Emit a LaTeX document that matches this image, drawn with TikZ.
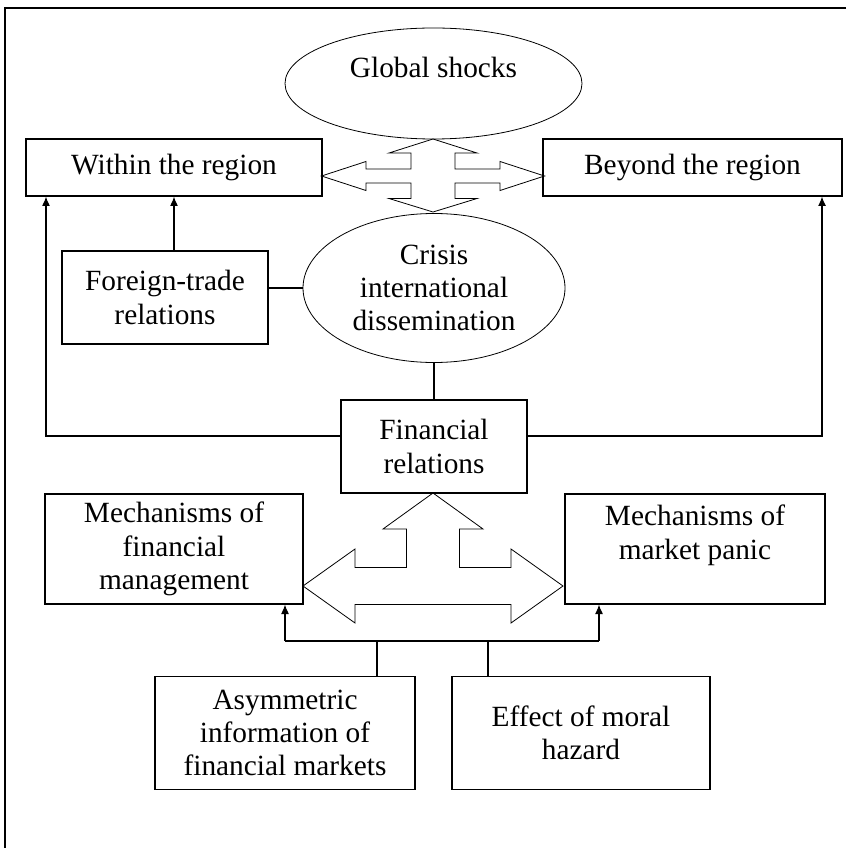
\documentclass[tikz,border=0pt]{standalone}
\usepackage{fontspec}
\setmainfont{Liberation Serif}
\usetikzlibrary{shapes.geometric,arrows.meta}

\begin{document}
\begin{tikzpicture}[x=0.75pt,y=0.75pt,yscale=-1,xscale=1,
  box/.style={draw,line width=1pt,inner sep=0pt,align=center,font=\fontsize{22}{25}\selectfont},
  oval/.style={draw,ellipse,line width=0.6pt,inner sep=0pt,align=center,font=\fontsize{22}{25}\selectfont},
  wide/.style={draw,line width=0.6pt,line join=miter},
  link/.style={line width=0.8pt},
  up/.style={-{Latex[length=7pt,width=6pt]}}]
\useasboundingbox (0,0) rectangle (846,848);
%frame
\draw [line width=1.2pt] (846,8) -- (5,8) -- (5,848) ;
%ovals
\node [oval,minimum width=222.75pt,minimum height=83.25pt] (glob) at (433.5,83.5) {Global shocks\\~};
\node [oval,minimum width=196.5pt,minimum height=111.75pt] (crisis) at (434,288) {Crisis\\international\\dissemination};
%boxes
\node [box,minimum width=222pt,minimum height=42.75pt] (within) at (174,167.5) {Within the region};
\node [box,minimum width=224.25pt,minimum height=42.75pt] (beyond) at (692.5,167.5) {Beyond the region};
\node [box,minimum width=154.5pt,minimum height=69.75pt] (trade) at (165,297.5) {Foreign-trade\\relations};
\node [box,minimum width=139.5pt,minimum height=69.75pt] (fin) at (434,446.5) {Financial\\relations};
\node [box,minimum width=193.5pt,minimum height=82.5pt] (mfin) at (174,549) {Mechanisms of\\financial\\management};
\node [box,minimum width=195pt,minimum height=82.5pt] (panic) at (695,549) {Mechanisms of\\market panic\\~};
\node [box,minimum width=195pt,minimum height=84.75pt] (asym) at (285,733) {Asymmetric\\information of\\financial markets};
\node [box,minimum width=193.5pt,minimum height=84.75pt] (hazard) at (581,733) {Effect of moral\\hazard};
%four-way arrow
\begin{scope}[shift={(433,176)}]
\draw [wide] (0,-37) -- (44,-23) -- (22,-23) -- (22,-7) -- (67,-7) -- (67,-14.5) -- (111.5,0) -- (67,14.5) -- (67,7) -- (22,7) -- (22,22.5) -- (44,22.5) -- (0,36) -- (-44,22.5) -- (-22,22.5) -- (-22,7) -- (-67,7) -- (-67,14.5) -- (-111.5,0) -- (-67,-14.5) -- (-67,-7) -- (-22,-7) -- (-22,-23) -- (-44,-23) -- cycle ;
\end{scope}
%three-way arrow
\begin{scope}[shift={(433,586)}]
\draw [wide] (0,-93) -- (50,-57) -- (26.5,-57) -- (26.5,-18.5) -- (78,-18.5) -- (78,-37) -- (130,0) -- (78,37) -- (78,18.5) -- (-78,18.5) -- (-78,37) -- (-130,0) -- (-78,-37) -- (-78,-18.5) -- (-26.5,-18.5) -- (-26.5,-57) -- (-50,-57) -- cycle ;
\end{scope}
%links
\coordinate (lt) at (46,436);
\coordinate (rt) at (822,436);
\draw [link,up] (lt -| fin.west) -- (lt) -- (lt |- within.south) ;
\draw [link,up] (rt -| fin.east) -- (rt) -- (rt |- beyond.south) ;
\draw [link,up] (trade.north -| within.south) -- (within.south) ;
\draw [link] (trade.east |- crisis.west) -- (crisis.west) ;
\draw [link] (crisis.south) -- (fin.north) ;
\coordinate (jl) at (377,641);
\coordinate (jr) at (488,641);
\coordinate (bl) at (285,641);
\coordinate (br) at (599,641);
\draw [link] (jl |- asym.north) -- (jl) ;
\draw [link] (jr |- hazard.north) -- (jr) ;
\draw [link,up] (bl) -- (bl |- mfin.south) ;
\draw [link,up] (br) -- (br |- panic.south) ;
\draw [link] (bl) -- (br) ;
\end{tikzpicture}
\end{document}
